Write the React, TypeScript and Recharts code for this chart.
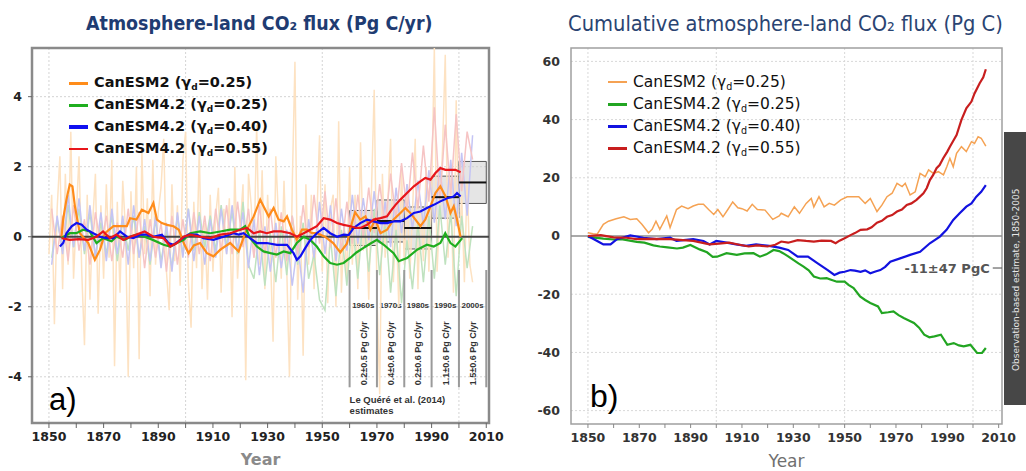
import {
  LineChart,
  Line,
  XAxis,
  YAxis,
  CartesianGrid,
  ReferenceArea,
  ReferenceLine,
  Legend,
} from 'recharts'

// ---- legend entries ----
const modelNames = ['CanESM2', 'CanESM4.2', 'CanESM4.2', 'CanESM4.2']
const gammaD = ['0.25', '0.25', '0.40', '0.55']

// ---- panel a: annual flux (faint), Pg C/yr ----
const orangeAnnualStart = 1850
const orangeAnnual = [
  -0.5, 1.2, -2.5, 0.8, 2.3, -1.5, 1.8, -0.8, 3.0, -1.2,
  0.6, 2.3, -1.0, -3.1, 1.2, -1.8, 0.4, 1.8, -2.2, 0.9,
  -1.2, 1.5, -0.6, 2.2, -3.7, 1.0, -1.6, 1.6, 0.2, -4.0,
  1.3, -0.9, 2.0, -3.5, 2.5, -0.5, 1.1, -1.7, 2.2, -0.8,
  0.7, 1.4, 2.8, -1.0, -2.1, 1.5, -0.7, 0.9, -1.4, 2.2,
  3.0, -1.3, -2.6, 1.0, -0.9, 2.5, -1.5, 0.4, -1.8, 1.2,
  -1.0, 0.6, 1.4, -1.6, 0.8, -0.5, 1.1, -2.3, 2.0, -1.2,
  0.3, 1.5, -4.1, 1.8, 0.9, -0.6, 3.2, -0.8, 1.9, -1.5,
  1.2, -0.4, -3.0, 2.3, 0.5, -1.2, 1.6, -0.9, -4.0, 1.4,
  5.0, -1.8, 0.6, -3.4, 1.5, -0.8, 1.2, -1.5, 0.5, 2.9,
  -1.0, 1.5, -1.9, 0.8, 1.2, -2.0, 3.3, -1.6, 0.4, -1.2,
  2.0, -0.8, 1.2, -1.5, 2.7, -0.4, 0.8, -1.8, 1.3, 4.2,
  -1.6, -4.5, 1.8, -0.6, 1.0, 2.8, -1.3, 0.6, -2.0, 2.0,
  -0.8, 1.5, -1.2, 0.7, 2.8, -1.5, 1.0, -0.7, 2.0, -1.0,
  1.2, 5.4, -1.0, 0.8, 2.5, 5.2, -0.6, 1.5, -1.6, 3.9,
  -0.5, 1.2, -1.3, 1.6, -0.8, -1.3,
]

// other models: every second year from 1851
const faintStart = 1851
const faintStep = 2
const greenAnnual = [
  -0.6, 0.5, -0.4, 0.9, -0.3, 0.8, -0.5, 0.7, -0.6, 0.4,
  -0.5, 0.6, -0.7, 0.5, -0.4, 0.6, -0.6, 0.3, -0.8, 0.5,
  -0.7, 0.2, -0.9, 0.6, -0.5, 0.8, -0.4, 0.7, -0.3, 0.6,
  -0.4, 0.9, -0.3, 0.7, -0.5, 1.0, -0.8, -1.2, 0.2, -1.4,
  0.1, -1.3, 0.3, -1.1, 0.6, -0.8, 0.4, -1.2, -0.5, -1.8,
  -2.1, 0.0, -1.7, 0.2, -1.4, 0.5, -1.2, 0.6, -1.0, 0.8,
  -1.1, 0.5, -1.6, 0.2, -1.9, -0.1, -1.5, 0.4, -1.3, 0.6,
  -1.2, 0.9, -0.8, 0.7, -1.7, 0.6, -0.9, 0.3,
]
const blueAnnual = [
  -0.8, 0.6, -0.5, 1.2, -0.3, 1.1, -0.4, 0.9, -0.6, 0.7,
  -0.7, 0.8, -0.5, 0.6, -0.8, 0.9, -0.6, 0.5, -0.7, 0.6,
  -0.9, 0.4, -1.0, 0.7, -0.6, 0.8, -0.7, 0.6, -0.8, 0.5,
  -0.6, 0.8, -0.5, 0.9, -0.4, 0.7, -0.9, 0.5, -1.1, 0.3,
  -1.0, 0.4, -0.9, 0.2, -1.4, -0.2, -1.6, 0.5, -0.6, 1.0,
  -0.5, 0.9, -0.7, 0.8, -0.4, 1.2, -0.2, 1.1, -0.1, 1.3,
  -0.2, 1.0, -0.3, 1.4, 0.1, 1.5, 0.2, 1.6, 0.3, 1.9,
  0.4, 2.0, 0.5, 2.2, 0.3, 2.4, 0.6, 2.9,
]
const redAnnual = [
  0.8, -0.5, 0.6, -0.7, 0.9, -0.4, 0.5, -0.8, 0.7, -0.3,
  0.6, -0.7, 0.4, -0.6, 0.8, -0.5, 0.7, -0.9, 0.5, -0.6,
  0.4, -1.0, 0.6, -0.8, 0.5, -0.6, 0.7, -0.5, 0.6, -0.7,
  0.8, -0.4, 0.9, -0.5, 1.0, -0.3, 0.8, -0.6, 0.9, -0.5,
  0.8, -0.6, 0.7, -0.7, 0.6, -0.5, 0.9, -0.3, 1.2, -0.2,
  1.3, -0.3, 1.1, -0.4, 1.0, -0.2, 1.2, 0.0, 1.4, 0.1,
  1.5, 0.3, 1.8, 0.5, 2.1, 0.7, 2.4, 0.8, 2.6, 1.0,
  3.7, 1.0, 3.2, 1.2, 3.5, 1.3, 3.0, 2.2,
]

// ---- panel a: smoothed flux ----
const orangeSmoothYears = [
  1854.6, 1855.2, 1856.4, 1857.6, 1858.6, 1859.5, 1861.3, 1864.4, 1866.8, 1868.7,
  1870.5, 1873.6, 1876, 1878.5, 1879.7, 1882, 1884, 1886.4, 1888.2, 1889.5,
  1891.3, 1893.2, 1895.6, 1897.5, 1899.3, 1901.1, 1903, 1905.3, 1907.8, 1910.2,
  1912.7, 1916.3, 1919.4, 1921.8, 1924.9, 1927.3, 1928.5, 1930.4, 1932.2, 1934,
  1935.9, 1937.1, 1938.9, 1940.7, 1942.6, 1944.4, 1946.2, 1948, 1951, 1954,
  1956.6, 1959, 1960.5, 1962, 1963.9, 1965.8, 1967.6, 1969.4, 1971.3, 1973.7,
  1976.1, 1978.6, 1980.4, 1982.2, 1984.1, 1985.9, 1987.7, 1989.6, 1991.4, 1993.2,
  1995.1, 1996.9, 1998.1, 1999.3, 2000.6,
]
const orangeSmooth = [
  0, 0.5, 1.06, 1.49, 1.44, 0.87, 0.1, -0.18, -0.66, -0.37,
  0.1, 0.3, 0.3, 0.3, 0.53, 0.49, 0.77, 0.68, 0.96, 0.49,
  0.39, 0.34, 0.3, 0.2, -0.18, -0.47, -0.25, -0.18, -0.47, -0.56,
  -0.37, -0.18, -0.42, 0.1, 0.58, 1.06, 0.87, 0.58, 0.82, 0.49,
  0.44, 0.58, 0.2, -0.09, 0.2, 0.2, 0.1, 0.1, 0.0, -0.18,
  -0.45, -0.2, 0.3, 0.7, 0.49, 0.58, 0.2, 0.49, 0.1, 0.2,
  0.49, 0.68, 0.82, 0.68, 0.49, 0.3, 0.49, 0.87, 1.25, 1.44,
  1.15, 0.68, 0.87, 0.49, 0,
]
const greenSmoothYears = [
  1854.6, 1857.6, 1860, 1862.5, 1864.9, 1867.4, 1869.8, 1872.9, 1874.7, 1877.8,
  1879.7, 1882, 1885, 1888, 1891.9, 1894.4, 1896.8, 1899.3, 1901.7, 1905.3,
  1909, 1912.7, 1916.3, 1920, 1921.8, 1923.6, 1926.1, 1928.5, 1931, 1933.4,
  1935.9, 1938.3, 1940.7, 1943.2, 1945.6, 1948, 1950.5, 1952.9, 1955.4, 1957.8,
  1960.3, 1962.5, 1965.1, 1967.5, 1970, 1972.5, 1976.1, 1978, 1981, 1984.7,
  1988.3, 1990.8, 1993.2, 1995, 1996.9, 1998.7, 2001.2,
]
const greenSmooth = [
  -0.04, 0.1, 0.1, 0.2, 0.15, -0.18, -0.04, -0.13, 0, -0.09,
  0, 0.06, 0, -0.09, -0.23, -0.28, -0.18, -0.09, 0.1, 0.15,
  0.1, 0.15, 0.2, 0.2, 0.3, -0.04, -0.28, -0.42, -0.47, -0.51,
  -0.42, -0.47, -0.18, 0, -0.09, -0.28, -0.56, -0.75, -0.8, -0.75,
  -0.6, -0.45, -0.32, -0.2, -0.09, -0.23, -0.47, -0.7, -0.61, -0.37,
  -0.23, -0.28, -0.18, 0.1, -0.18, -0.28, -0.04,
]
const blueSmoothYears = [
  1854, 1855.2, 1856.4, 1858.3, 1860.1, 1862, 1863.8, 1866.2, 1868.7, 1871.1,
  1873.6, 1876, 1878.5, 1880.9, 1883.4, 1885.8, 1888.2, 1891.3, 1893.7, 1895.6,
  1898, 1901, 1904.1, 1906.5, 1910.2, 1913.9, 1917.5, 1919.4, 1921.2, 1923.6,
  1926.1, 1929.7, 1933.4, 1937.1, 1939.5, 1940.7, 1942, 1943.8, 1945.6, 1948,
  1950.5, 1952.9, 1955.4, 1957.8, 1959.7, 1961.5, 1963.9, 1966.4, 1968.8, 1971.3,
  1973.7, 1976.1, 1978.6, 1981, 1983.5, 1985.9, 1988.3, 1990.8, 1993.2, 1995.7,
  1998.1, 1999.3, 2000.6,
]
const blueSmooth = [
  -0.28, -0.18, 0.1, 0.3, 0.39, 0.34, 0.2, 0.1, 0, -0.04,
  -0.04, 0.15, 0, -0.04, 0.06, 0.06, 0, 0.06, -0.18, -0.23,
  -0.09, 0.06, 0.06, -0.04, -0.09, 0, 0.1, 0.06, 0.1, -0.04,
  -0.18, -0.18, -0.23, -0.23, -0.47, -0.66, -0.56, -0.32, -0.09, 0.1,
  0.25, 0.1, 0, 0.06, 0.05, 0.25, 0.39, 0.49, 0.44, 0.39,
  0.39, 0.44, 0.44, 0.53, 0.68, 0.72, 0.82, 0.91, 1.01, 1.1,
  1.15, 1.25, 1.15,
]
const redSmoothYears = [
  1854.6, 1857.6, 1861, 1864.4, 1867.4, 1869.8, 1872.3, 1874.7, 1877.2, 1879.7,
  1882, 1885, 1888.2, 1891.9, 1894.4, 1896.8, 1899.3, 1901.7, 1905.3, 1909,
  1912.7, 1916.3, 1920, 1922.4, 1924.9, 1927.3, 1929.7, 1932.2, 1935, 1938.3,
  1940.7, 1943.2, 1945.6, 1948, 1950.5, 1952.9, 1955.4, 1957.8, 1960.3, 1962.5,
  1964, 1966.4, 1968.8, 1971.3, 1973.7, 1974.9, 1976.8, 1978.6, 1981, 1983.5,
  1985.9, 1987.7, 1989.6, 1991.4, 1993.2, 1995.1, 1996.9, 1998.7, 2000.6,
]
const redSmooth = [
  -0.04, -0.09, -0.07, -0.09, 0, 0.15, -0.04, 0.06, -0.09, 0,
  0.06, 0.15, 0, -0.04, -0.28, -0.18, 0, 0.06, 0, -0.04,
  0.06, 0.1, 0.2, 0.25, 0.1, 0.15, 0.1, 0.15, 0.15, 0.1,
  0, 0.1, 0.2, 0.3, 0.53, 0.49, 0.39, 0.34, 0.3, 0.25,
  0.25, 0.34, 0.49, 0.53, 0.58, 0.72, 0.91, 1.06, 1.25, 1.44,
  1.58, 1.68, 1.63, 1.82, 1.96, 1.91, 1.91, 1.91, 1.84,
]

// ---- Le Quere et al. (2014) decadal estimates ----
const lqDecades = [1960, 1970, 1980, 1990, 2000]
const lqMean = [0.25, 0.45, 0.25, 1.13, 1.55]
const lqSd = [0.5, 0.6, 0.6, 0.6, 0.6]
const lqHeads = ['1960s', '1970s', '1980s', '1990s', '2000s']
const lqTexts = ['0.2±0.5 Pg C/yr', '0.4±0.6 Pg C/yr', '0.2±0.6 Pg C/yr', '1.1±0.6 Pg C/yr', '1.5±0.6 Pg C/yr']

// ---- panel b: cumulative flux, Pg C ----
const orangeCumYears = [
  1850, 1852, 1853.6, 1856, 1858, 1861, 1864, 1866.5, 1869, 1871,
  1873.6, 1875, 1876.5, 1878, 1880.7, 1882, 1884.5, 1886.5, 1889, 1891,
  1893, 1895, 1897, 1899, 1900.6, 1902.6, 1904.5, 1906.4, 1908.4, 1910,
  1912, 1914, 1916, 1919, 1922, 1924.5, 1925.3, 1928, 1930.4, 1932.4,
  1935, 1937, 1938, 1940, 1942, 1944, 1946, 1948.5, 1951, 1953.6,
  1955.5, 1958, 1960, 1962.6, 1964.5, 1966.5, 1968.5, 1970.4, 1972.4, 1973.6,
  1975.5, 1977.5, 1979.4, 1981.4, 1982.7, 1984.6, 1986.5, 1988.5, 1989.8, 1991,
  1992.3, 1993.6, 1995.5, 1997.4, 1999.4, 2000.6, 2002, 2003.2, 2005,
]
const orangeCum = [
  1.1, 0.8, 0.6, 4, 5.1, 5.9, 6.6, 5.7, 5.9, 4,
  1.1, 2.3, 5.1, 2.3, 6.9, 2.9, 9.1, 10.3, 9.4, 10.3,
  10.9, 10.9, 9.1, 7.4, 9.1, 6.6, 9.1, 11.7, 9.7, 9.4,
  8.6, 10.9, 9.1, 8.9, 5.7, 6.9, 7.8, 6.6, 10, 7.8,
  11.2, 12.9, 10, 13.5, 10, 11.2, 10.6, 12.4, 13.5, 13.5,
  13.5, 11.2, 12.9, 8.4, 10.6, 13.5, 14.7, 18.1, 17, 18.1,
  14.1, 15.2, 21.5, 20.4, 22.7, 21.5, 22.1, 21, 23.8, 26.7,
  23.8, 28.4, 30.7, 29, 32.4, 31.8, 34.1, 33.6, 30.9,
]
const greenCumYears = [
  1850, 1856, 1860, 1863, 1869, 1872, 1875.5, 1878, 1881, 1884.7,
  1887, 1889.9, 1893.5, 1896.4, 1898.6, 1900.3, 1904, 1908, 1911, 1914.5,
  1917, 1919.5, 1922.3, 1924.5, 1926, 1928, 1930, 1932, 1934, 1936,
  1938, 1940.5, 1943, 1945, 1947, 1950, 1951.5, 1953.5, 1956, 1958,
  1960, 1963, 1964.5, 1967, 1969, 1971, 1973, 1975, 1977, 1979,
  1981, 1983, 1985, 1987.5, 1990, 1992.5, 1994.5, 1996.4, 1999, 2001.6,
  2003.5, 2005,
]
const greenCum = [
  -0.3, -0.9, -1.2, -1.1, -2.0, -2.3, -3.2, -3.6, -3.9, -4.3,
  -4.0, -3.1, -4.6, -5.6, -7.2, -7.1, -5.9, -6.5, -6.0, -5.9,
  -7.1, -6.3, -4.8, -5.2, -5.9, -7.0, -8.2, -9.4, -10.5, -11.8,
  -13.9, -14.6, -14.5, -15.1, -15.7, -15.7, -16.8, -17.9, -20.8, -22.0,
  -23.0, -24.2, -26.5, -26.2, -25.9, -27.2, -28.2, -29.0, -29.9, -31.5,
  -33.9, -34.8, -34.5, -33.9, -37.4, -36.8, -37.6, -37.9, -37.4, -40.2,
  -40.2, -38.5,
]
const blueCumYears = [
  1850, 1853.6, 1856, 1858.8, 1861.3, 1866.5, 1871.6, 1876.8, 1882, 1884.5,
  1891, 1895, 1897.4, 1900, 1904, 1907.7, 1911.6, 1915.5, 1920.6, 1924.5,
  1928, 1931.7, 1935.7, 1939.5, 1943.4, 1946, 1948, 1950, 1952.3, 1954,
  1956.2, 1958, 1960, 1962, 1963.9, 1965.8, 1967.8, 1971.6, 1975.5, 1979.4,
  1983.2, 1987.1, 1989.7, 1992.3, 1994.8, 1997.4, 1999.4, 2001.3, 2003.2, 2005,
]
const blueCum = [
  0, -1.7, -2.9, -2.9, -1.1, 0.2, -0.6, -1.1, -0.6, -1.7,
  -1.1, -1.7, -2.9, -1.7, -2.3, -2.9, -3.4, -2.9, -3.4, -4.0,
  -4.8, -7.1, -7.1, -9.4, -11.7, -13.4, -12.6, -12.3, -11.7, -11.9,
  -12.3, -11.8, -12.8, -12.2, -11.7, -10.6, -8.8, -7.7, -6.5, -5.4,
  -2.5, -0.2, 2.1, 5.5, 7.8, 10.1, 11.2, 13.5, 15.2, 17.5,
]
const redCumYears = [
  1850, 1855, 1860, 1865, 1869, 1875, 1882, 1887, 1891, 1897.4,
  1901, 1905, 1909, 1912.6, 1916, 1920, 1923, 1925.3, 1928, 1931.7,
  1935, 1938, 1941, 1944.7, 1946.5, 1948, 1950, 1952.3, 1954, 1956.2,
  1958.8, 1960.5, 1962.6, 1964.5, 1966.5, 1968.5, 1970.4, 1972.3, 1974.2, 1976,
  1978, 1980.7, 1982, 1983.2, 1984.5, 1985.8, 1987, 1988.4, 1990, 1991,
  1992.5, 1993.6, 1995.5, 1997.4, 1999.4, 2000.6, 2002.6, 2004, 2005,
]
const redCum = [
  0, 0.3, -0.5, -0.6, -1.1, -1.0, -1.1, -1.4, -1.7, -2.9,
  -2.6, -2.3, -3.0, -3.6, -3.2, -3.6, -3.0, -1.9, -2.3, -1.4,
  -1.7, -1.9, -1.6, -1.7, -2.5, -1.6, -0.8, 0.3, 1.0, 2.1,
  2.3, 3.0, 4.6, 5.2, 6.6, 7.2, 8.4, 9.1, 10.7, 11.2,
  12.4, 14.7, 16.5, 19.2, 21.0, 23.3, 24.4, 26.7, 29.0, 30.7,
  33.0, 34.7, 39.9, 43.9, 46.2, 49.0, 52.5, 54.5, 57.3,
]
const obsEstimate = -11
const obsLabel = '-11±47 PgC'

// ---- axes ----
const leftXDomain = [1843.8, 2011]
const leftYDomain = [-5.32, 5.39]
const leftYTicks = [-4, -2, 0, 2, 4]
const rightXDomain = [1843.4, 2011.3]
const rightYDomain = [-64.6, 64.6]
const rightYTicks = [-60, -40, -20, 0, 20, 40, 60]
const decadeTicks = [1850, 1860, 1870, 1880, 1890, 1900, 1910, 1920, 1930, 1940, 1950, 1960, 1970, 1980, 1990, 2000, 2010]
const gridYears = [1850, 1900, 1950, 2000]

const zip = (xs: number[], ys: number[]) => xs.map((x, i) => ({ year: x, v: ys[i] }))
const series = (start: number, step: number, ys: number[]) => ys.map((v, i) => ({ year: start + i * step, v }))
const yearLabel = (v: number) => ((v - 1850) % 20 === 0 ? String(v) : '')

const leftColors = ['#ff8c1a', '#1fae1f', '#1010f0', '#e8161b']
const faintColors = ['#fde2c2', '#bfe2bf', '#c4c4f4', '#f6c4c4']
const rightColors = ['#f5a253', '#22a522', '#1212e0', '#c81e1e']

function LegendBox({ colors, widths, bold }: { colors: string[]; widths: number[]; bold: boolean }) {
  return (
    <div style={{ fontFamily: '"DejaVu Sans", sans-serif', fontWeight: bold ? 'bold' : 'normal', fontSize: bold ? 14.5 : 15.5, color: '#111' }}>
      {modelNames.map((m, i) => (
        <div key={i} style={{ display: 'flex', alignItems: 'center', height: 22, whiteSpace: 'nowrap' }}>
          <div style={{ width: 19, height: 0, borderTop: `${widths[i]}px solid ${colors[i]}`, marginRight: 6 }} />
          <span>
            {m} (γ<span style={{ fontSize: '0.62em', verticalAlign: '-0.3em' }}>d</span>={gammaD[i]})
          </span>
        </div>
      ))}
    </div>
  )
}

function DecadeLabel(props: any) {
  const { viewBox, head, text } = props
  const { x, y, width, height } = viewBox
  const cx = x + width / 2
  return (
    <g fontFamily='"Liberation Sans", Arial, sans-serif' fontWeight="bold" fill="#333">
      <text x={cx} y={y + 8} textAnchor="middle" fontSize={8}>{head}</text>
      <text transform={`translate(${cx + 3.5},${y + height - 2}) rotate(-90)`} fontSize={9}>{text}</text>
    </g>
  )
}

function SourceLabel(props: any) {
  const { viewBox } = props
  return (
    <g fontFamily='"Liberation Sans", Arial, sans-serif' fontWeight="bold" fill="#333" fontSize={9.5}>
      <text x={viewBox.x} y={viewBox.y + 10}>Le Quéré et al. (2014)</text>
      <text x={viewBox.x} y={viewBox.y + 21}>estimates</text>
    </g>
  )
}

function LeftPanel() {
  const faint = [
    series(orangeAnnualStart, 1, orangeAnnual),
    series(faintStart, faintStep, greenAnnual),
    series(faintStart, faintStep, blueAnnual),
    series(faintStart, faintStep, redAnnual),
  ]
  const smooth = [
    zip(orangeSmoothYears, orangeSmooth),
    zip(greenSmoothYears, greenSmooth),
    zip(blueSmoothYears, blueSmooth),
    zip(redSmoothYears, redSmooth),
  ]
  const tickFont = { fontSize: 12.5, fontWeight: 'bold', fill: '#222', fontFamily: '"DejaVu Sans", sans-serif' }
  return (
    <LineChart width={510} height={471} margin={{ top: 48, right: 21, bottom: 0, left: 0 }}>
      <CartesianGrid stroke="#d4d4d4" strokeDasharray="2 2" horizontalValues={[-4, -2, 2, 4]} verticalValues={gridYears} />
      <XAxis
        type="number"
        dataKey="year"
        domain={leftXDomain}
        allowDataOverflow
        ticks={decadeTicks}
        tickFormatter={yearLabel}
        height={48}
        axisLine={false}
        tickSize={5}
        tickMargin={4}
        tickLine={{ stroke: '#666' }}
        tick={tickFont}
        interval={0}
        label={{ value: 'Year', position: 'insideBottom', offset: 6, fill: '#8a8a8a', fontSize: 16, fontWeight: 'bold', fontFamily: '"DejaVu Sans", sans-serif' }}
      />
      <YAxis
        type="number"
        domain={leftYDomain}
        allowDataOverflow
        ticks={leftYTicks}
        width={32}
        axisLine={false}
        tickSize={4}
        tickMargin={6}
        tickLine={{ stroke: '#666' }}
        tick={tickFont}
      />
      {faint.map((d, i) => (
        <Line key={`f${i}`} data={d} dataKey="v" type="linear" stroke={faintColors[i]} strokeWidth={1.5} dot={false} isAnimationActive={false} />
      ))}
      {lqDecades.map((d, i) => (
        <ReferenceArea key={`b${i}`} x1={d} x2={d + 10} y1={lqMean[i] - lqSd[i]} y2={lqMean[i] + lqSd[i]} fill="#d0d0d0" fillOpacity={0.55} stroke="#555" strokeWidth={1} />
      ))}
      {lqDecades.map((d, i) => (
        <ReferenceLine key={`m${i}`} segment={[{ x: d, y: lqMean[i] }, { x: d + 10, y: lqMean[i] }]} stroke="#111" strokeWidth={2} />
      ))}
      {[...lqDecades, 2010].map((d) => (
        <ReferenceLine key={`s${d}`} segment={[{ x: d, y: -0.95 }, { x: d, y: -4.3 }]} stroke="#9a9a9a" strokeWidth={2} />
      ))}
      {lqDecades.map((d, i) => (
        <ReferenceArea key={`t${i}`} x1={d} x2={d + 10} y1={-4.3} y2={-1.8} fill="none" stroke="none" label={<DecadeLabel head={lqHeads[i]} text={lqTexts[i]} />} />
      ))}
      <ReferenceArea x1={1960} x2={2010} y1={-5.25} y2={-4.45} fill="none" stroke="none" label={<SourceLabel />} />
      <ReferenceLine y={0} stroke="#444" strokeWidth={2} />
      {smooth.map((d, i) => (
        <Line key={`s${i}`} data={d} dataKey="v" type="linear" stroke={leftColors[i]} strokeWidth={2.2} dot={false} isAnimationActive={false} />
      ))}
      <ReferenceArea x1={leftXDomain[0]} x2={leftXDomain[1]} y1={leftYDomain[0]} y2={leftYDomain[1]} fill="none" stroke="#8a8a8a" strokeWidth={2.5} />
      <Legend
        layout="horizontal"
        verticalAlign="middle"
        align="center"
        wrapperStyle={{ left: 69, top: 72, width: 'auto', height: 'auto' }}
        content={() => <LegendBox colors={leftColors} widths={[3, 3, 4, 2]} bold />}
      />
    </LineChart>
  )
}

function RightPanel() {
  const cum = [
    zip(orangeCumYears, orangeCum),
    zip(greenCumYears, greenCum),
    zip(blueCumYears, blueCum),
    zip(redCumYears, redCum),
  ]
  const tickFont = { fontSize: 12.5, fontWeight: 'bold', fill: '#333', fontFamily: '"DejaVu Sans", sans-serif' }
  return (
    <LineChart width={506} height={471} margin={{ top: 48, right: 24, bottom: 0, left: 0 }}>
      <CartesianGrid stroke="#d8d8d8" strokeDasharray="2 2" horizontalValues={[-60, -40, -20, 20, 40, 60]} verticalValues={gridYears} />
      <XAxis
        type="number"
        dataKey="year"
        domain={rightXDomain}
        allowDataOverflow
        ticks={decadeTicks}
        tickFormatter={yearLabel}
        height={47}
        axisLine={false}
        tickSize={4}
        tickMargin={5}
        tickLine={{ stroke: '#888' }}
        tick={tickFont}
        interval={0}
        label={{ value: 'Year', position: 'insideBottom', offset: 4, fill: '#707070', fontSize: 17, fontFamily: '"DejaVu Sans", sans-serif' }}
      />
      <YAxis
        type="number"
        domain={rightYDomain}
        allowDataOverflow
        ticks={rightYTicks}
        width={51}
        axisLine={false}
        tickSize={0}
        tickMargin={11}
        tickLine={false}
        tick={tickFont}
      />
      <ReferenceLine y={0} stroke="#8c8c8c" strokeWidth={1.5} />
      {cum.map((d, i) => (
        <Line key={`c${i}`} data={d} dataKey="v" type="linear" stroke={rightColors[i]} strokeWidth={i === 0 ? 1.5 : 2.2} dot={false} isAnimationActive={false} />
      ))}
      <ReferenceLine
        segment={[{ x: 2007.7, y: obsEstimate }, { x: rightXDomain[1], y: obsEstimate }]}
        stroke="#666"
        strokeWidth={1.2}
        ifOverflow="visible"
        label={{ value: obsLabel, position: 'left', offset: 3, fill: '#555', fontSize: 13, fontWeight: 'bold', fontFamily: '"DejaVu Sans", sans-serif' }}
      />
      <ReferenceArea x1={rightXDomain[0]} x2={rightXDomain[1]} y1={rightYDomain[0]} y2={rightYDomain[1]} fill="none" stroke="#a0a0a0" strokeWidth={1.5} />
      <Legend
        layout="horizontal"
        verticalAlign="middle"
        align="center"
        wrapperStyle={{ left: 88, top: 71, width: 'auto', height: 'auto' }}
        content={() => <LegendBox colors={rightColors} widths={[2, 3, 3, 3]} bold={false} />}
      />
    </LineChart>
  )
}

export default function App() {
  return (
    <div style={{ position: 'absolute', left: 0, top: 0, width: 1026, height: 471, background: '#fff', overflow: 'hidden' }}>
      <div style={{ position: 'absolute', left: 0, top: 0 }}>
        <LeftPanel />
      </div>
      <div style={{ position: 'absolute', left: 520, top: 0 }}>
        <RightPanel />
      </div>
      <svg width={1026} height={471} style={{ position: 'absolute', left: 0, top: 0, pointerEvents: 'none' }}>
        <g transform="translate(86,30) scale(0.92,1)">
          <text x={0} y={0} fontFamily='"DejaVu Sans", sans-serif' fontWeight="bold" fontSize={19} fill="#1f3c72">
            Atmosphere-land CO₂ flux (Pg C/yr)
          </text>
        </g>
        <g transform="translate(568,31) scale(0.93,1)">
          <text x={0} y={0} fontFamily='"DejaVu Sans", sans-serif' fontSize={21} fill="#2a4472">
            Cumulative atmosphere-land CO₂ flux (Pg C)
          </text>
        </g>
        <text x={49} y={410} fontFamily='"Liberation Sans", Arial, sans-serif' fontSize={31} fill="#000">a)</text>
        <text x={590} y={407} fontFamily='"Liberation Sans", Arial, sans-serif' fontSize={32} fill="#000">b)</text>
        <rect x={1004} y={132} width={22} height={273} fill="#474747" />
        <text transform="translate(1018.5,371) rotate(-90)" fontFamily='"DejaVu Sans", sans-serif' fontSize={9} fill="#e6e6e6">
          Observation-based estimate, 1850-2005
        </text>
      </svg>
    </div>
  )
}
